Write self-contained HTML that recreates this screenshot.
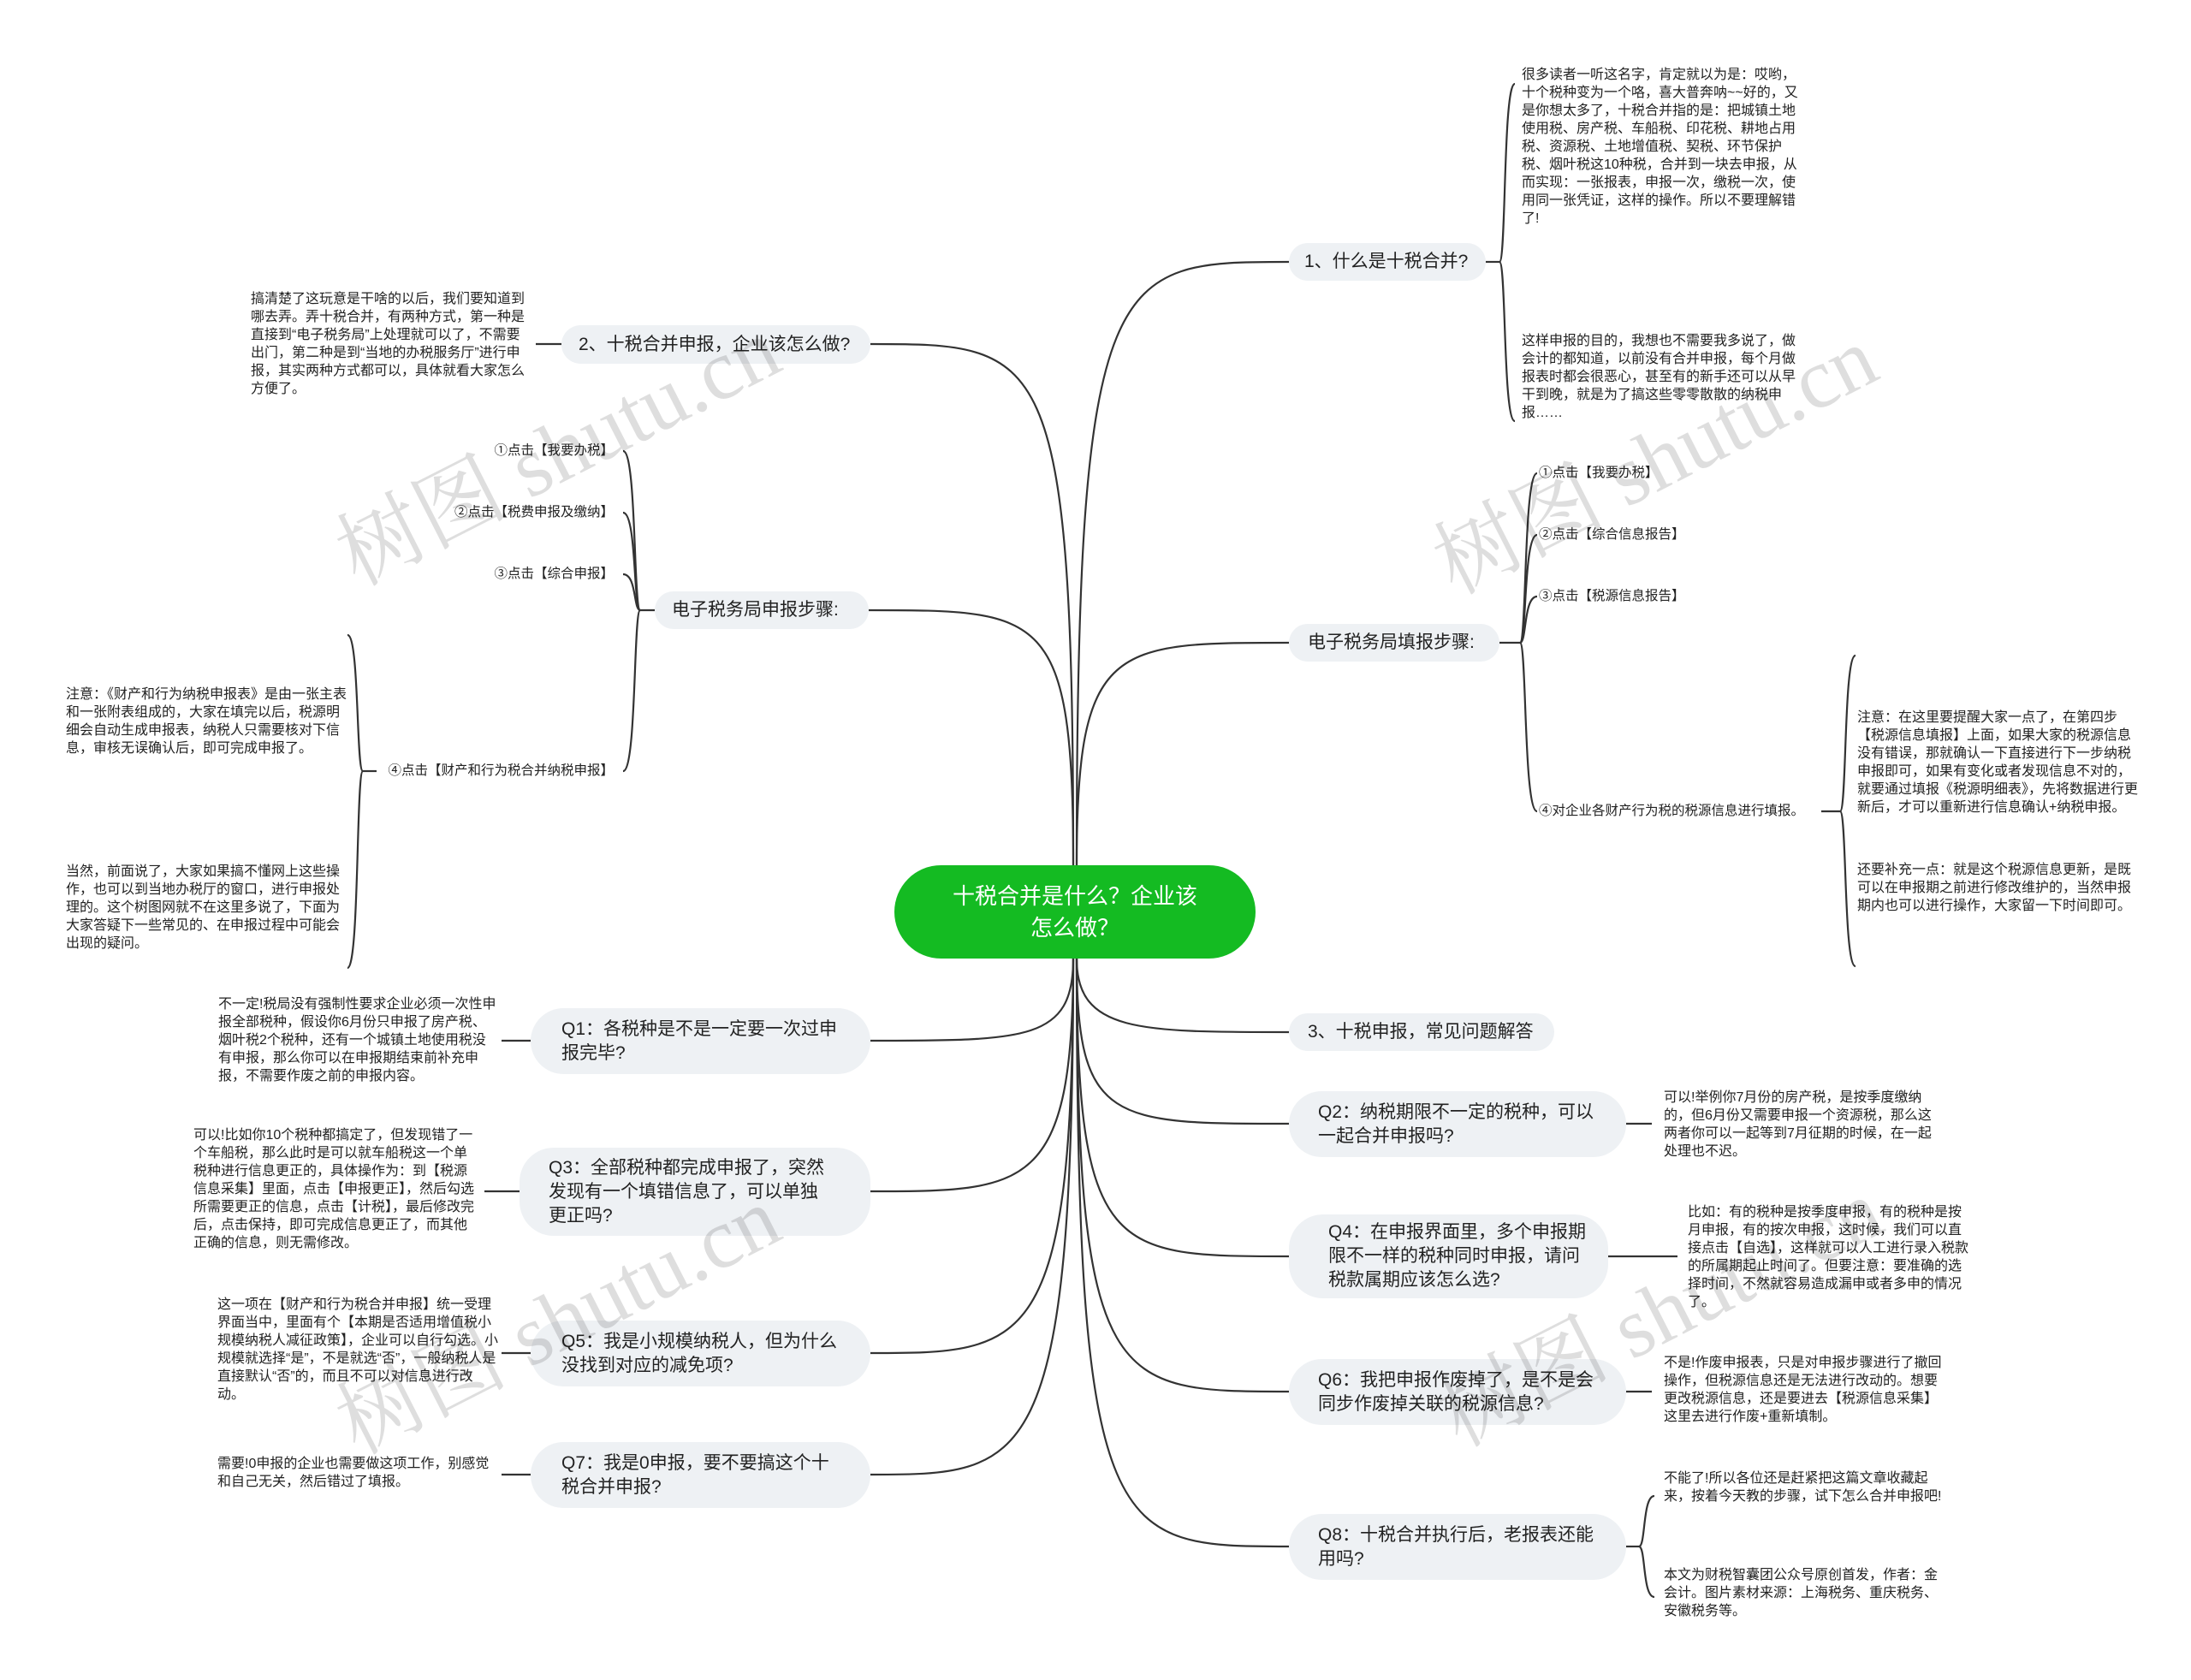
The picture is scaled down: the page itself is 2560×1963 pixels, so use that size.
<!DOCTYPE html>
<html><head><meta charset="utf-8">
<style>
html,body{margin:0;padding:0;}
body{width:2560px;height:1963px;position:relative;background:#fff;overflow:hidden;font-family:"Liberation Sans","Noto Sans CJK SC",sans-serif;color:#222;}
.p{position:absolute;background:#eef1f4;border-radius:40px;font-size:21px;line-height:28px;color:#222;display:flex;align-items:center;box-sizing:border-box;padding:0 34px;}
.n{white-space:nowrap;}
.t{position:absolute;font-size:16px;line-height:21px;color:#222;width:328px;}
.c{position:absolute;font-size:15.5px;line-height:21px;color:#222;white-space:nowrap;}
.wm{position:absolute;font-family:"Liberation Serif","Noto Serif CJK SC",serif;font-size:100px;color:rgba(0,0,0,0.13);transform:translate(-50%,-50%) rotate(-27deg);white-space:nowrap;}
</style></head><body>
<svg width="2560" height="1963" style="position:absolute;left:0;top:0" fill="none" stroke="#333" stroke-width="2.2">
<path d="M1258,1011 C1258,306 1300,306 1506,306"/>
<path d="M1258,1011 C1258,751 1300,751 1506,751"/>
<path d="M1258,1120 C1258,1206 1330,1206 1506,1206"/>
<path d="M1258,1120 C1258,1313 1300,1313 1506,1313"/>
<path d="M1258,1120 C1258,1468 1300,1468 1506,1468"/>
<path d="M1258,1120 C1258,1626 1300,1626 1506,1626"/>
<path d="M1258,1120 C1258,1807 1300,1807 1506,1807"/>
<path d="M1254,1011 C1254,402 1220,402 1017,402"/>
<path d="M1254,1011 C1254,713 1220,713 1015,713"/>
<path d="M1254,1120 C1254,1216 1200,1216 1017,1216"/>
<path d="M1254,1120 C1254,1392 1200,1392 1017,1392"/>
<path d="M1254,1120 C1254,1581 1200,1581 1017,1581"/>
<path d="M1254,1120 C1254,1723 1200,1723 1017,1723"/>
<path d="M1736,306 H1752"/>
<path d="M1752,306 C1760,306 1756,98 1770,98"/>
<path d="M1752,306 C1760,306 1756,492 1770,492"/>
<path d="M1752,751 H1776"/>
<path d="M1776,751 C1784,751 1780,553 1796,553"/>
<path d="M1776,751 C1784,751 1780,625 1796,625"/>
<path d="M1776,751 C1784,751 1780,697 1796,697"/>
<path d="M1776,751 C1784,751 1780,948 1796,948"/>
<path d="M2128,948 H2150"/>
<path d="M2150,948 C2158,948 2154,766 2168,766"/>
<path d="M2150,948 C2158,948 2154,1129 2168,1129"/>
<path d="M1900,1313 H1930"/>
<path d="M1879,1468 H1960"/>
<path d="M1900,1626 H1930"/>
<path d="M1900,1807 H1915"/>
<path d="M1915,1807 C1923,1807 1919,1748 1933,1748"/>
<path d="M1915,1807 C1923,1807 1919,1866 1933,1866"/>
<path d="M656,402 H626"/>
<path d="M765,713 H748"/>
<path d="M748,713 C740,713 744,527 728,527"/>
<path d="M748,713 C740,713 744,599 728,599"/>
<path d="M748,713 C740,713 744,671 728,671"/>
<path d="M748,713 C740,713 744,901 728,901"/>
<path d="M440,901 H424"/>
<path d="M424,901 C416,901 420,742 406,742"/>
<path d="M424,901 C416,901 420,1131 406,1131"/>
<path d="M620,1216 H586"/>
<path d="M607,1392 H566"/>
<path d="M620,1581 H586"/>
<path d="M620,1723 H586"/>
</svg>

<div style="position:absolute;left:1045px;top:1011px;width:422px;height:109px;border-radius:55px;background:#14bb22;color:#fff;font-size:26px;line-height:37px;display:flex;align-items:center;justify-content:center;text-align:center;padding:0 60px;box-sizing:border-box;">十税合并是什么？企业该怎么做？</div>

<div class="p n" style="left:1506px;top:284px;width:230px;height:44px;padding:0 18px;">1、什么是十税合并?</div>
<div class="p n" style="left:1506px;top:729px;width:246px;height:44px;padding:0 22px;">电子税务局填报步骤:</div>
<div class="p n" style="left:1506px;top:1184px;width:310px;height:44px;padding:0 22px;">3、十税申报，常见问题解答</div>
<div class="p" style="left:1506px;top:1275px;width:394px;height:77px;">Q2：纳税期限不一定的税种，可以一起合并申报吗?</div>
<div class="p" style="left:1506px;top:1419px;width:373px;height:98px;padding:0 16px 0 46px;">Q4：在申报界面里，多个申报期限不一样的税种同时申报，请问税款属期应该怎么选?</div>
<div class="p" style="left:1506px;top:1588px;width:394px;height:77px;">Q6：我把申报作废掉了，是不是会同步作废掉关联的税源信息?</div>
<div class="p" style="left:1506px;top:1769px;width:394px;height:77px;">Q8：十税合并执行后，老报表还能用吗?</div>

<div class="p n" style="left:656px;top:380px;width:361px;height:45px;padding:0 20px;">2、十税合并申报，企业该怎么做?</div>
<div class="p n" style="left:765px;top:691px;width:250px;height:44px;padding:0 20px;">电子税务局申报步骤:</div>
<div class="p" style="left:620px;top:1178px;width:397px;height:77px;padding:0 36px;">Q1：各税种是不是一定要一次过申报完毕?</div>
<div class="p" style="left:607px;top:1341px;width:410px;height:103px;padding:0 50px 0 34px;">Q3：全部税种都完成申报了，突然发现有一个填错信息了，可以单独更正吗?</div>
<div class="p" style="left:620px;top:1543px;width:397px;height:77px;padding:0 36px;">Q5：我是小规模纳税人，但为什么没找到对应的减免项?</div>
<div class="p" style="left:620px;top:1685px;width:397px;height:77px;padding:0 36px;">Q7：我是0申报，要不要搞这个十税合并申报?</div>

<div class="t" style="left:1778px;top:77px;">很多读者一听这名字，肯定就以为是：哎哟，十个税种变为一个咯，喜大普奔呐~~好的，又是你想太多了，十税合并指的是：把城镇土地使用税、房产税、车船税、印花税、耕地占用税、资源税、土地增值税、契税、环节保护税、烟叶税这10种税，合并到一块去申报，从而实现：一张报表，申报一次，缴税一次，使用同一张凭证，这样的操作。所以不要理解错了!</div>
<div class="t" style="left:1778px;top:388px;">这样申报的目的，我想也不需要我多说了，做会计的都知道，以前没有合并申报，每个月做报表时都会很恶心，甚至有的新手还可以从早干到晚，就是为了搞这些零零散散的纳税申报……</div>
<div class="c" style="left:1798px;top:542px;">①点击【我要办税】</div>
<div class="c" style="left:1798px;top:614px;">②点击【综合信息报告】</div>
<div class="c" style="left:1798px;top:686px;">③点击【税源信息报告】</div>
<div class="c" style="left:1798px;top:937px;">④对企业各财产行为税的税源信息进行填报。</div>
<div class="t" style="left:2170px;top:828px;">注意：在这里要提醒大家一点了，在第四步【税源信息填报】上面，如果大家的税源信息没有错误，那就确认一下直接进行下一步纳税申报即可，如果有变化或者发现信息不对的，就要通过填报《税源明细表》，先将数据进行更新后，才可以重新进行信息确认+纳税申报。</div>
<div class="t" style="left:2170px;top:1006px;">还要补充一点：就是这个税源信息更新，是既可以在申报期之前进行修改维护的，当然申报期内也可以进行操作，大家留一下时间即可。</div>
<div class="t" style="left:1944px;top:1272px;">可以!举例你7月份的房产税，是按季度缴纳的，但6月份又需要申报一个资源税，那么这两者你可以一起等到7月征期的时候，在一起处理也不迟。</div>
<div class="t" style="left:1972px;top:1406px;">比如：有的税种是按季度申报，有的税种是按月申报，有的按次申报，这时候，我们可以直接点击【自选】，这样就可以人工进行录入税款的所属期起止时间了。但要注意：要准确的选择时间，不然就容易造成漏申或者多申的情况了。</div>
<div class="t" style="left:1944px;top:1582px;">不是!作废申报表，只是对申报步骤进行了撤回操作，但税源信息还是无法进行改动的。想要更改税源信息，还是要进去【税源信息采集】这里去进行作废+重新填制。</div>
<div class="t" style="left:1944px;top:1717px;">不能了!所以各位还是赶紧把这篇文章收藏起来，按着今天教的步骤，试下怎么合并申报吧!</div>
<div class="t" style="left:1944px;top:1830px;">本文为财税智囊团公众号原创首发，作者：金会计。图片素材来源：上海税务、重庆税务、安徽税务等。</div>

<div class="t" style="left:293px;top:339px;">搞清楚了这玩意是干啥的以后，我们要知道到哪去弄。弄十税合并，有两种方式，第一种是直接到“电子税务局”上处理就可以了，不需要出门，第二种是到“当地的办税服务厅”进行申报，其实两种方式都可以，具体就看大家怎么方便了。</div>
<div class="c" style="right:1843px;top:516px;">①点击【我要办税】</div>
<div class="c" style="right:1843px;top:588px;">②点击【税费申报及缴纳】</div>
<div class="c" style="right:1843px;top:660px;">③点击【综合申报】</div>
<div class="c" style="right:1843px;top:890px;">④点击【财产和行为税合并纳税申报】</div>
<div class="t" style="left:77px;top:801px;">注意：《财产和行为纳税申报表》是由一张主表和一张附表组成的，大家在填完以后，税源明细会自动生成申报表，纳税人只需要核对下信息，审核无误确认后，即可完成申报了。</div>
<div class="t" style="left:77px;top:1008px;">当然，前面说了，大家如果搞不懂网上这些操作，也可以到当地办税厅的窗口，进行申报处理的。这个树图网就不在这里多说了，下面为大家答疑下一些常见的、在申报过程中可能会出现的疑问。</div>
<div class="t" style="left:255px;top:1163px;">不一定!税局没有强制性要求企业必须一次性申报全部税种，假设你6月份只申报了房产税、烟叶税2个税种，还有一个城镇土地使用税没有申报，那么你可以在申报期结束前补充申报，不需要作废之前的申报内容。</div>
<div class="t" style="left:226px;top:1316px;">可以!比如你10个税种都搞定了，但发现错了一个车船税，那么此时是可以就车船税这一个单税种进行信息更正的，具体操作为：到【税源信息采集】里面，点击【申报更正】，然后勾选所需要更正的信息，点击【计税】，最后修改完后，点击保持，即可完成信息更正了，而其他正确的信息，则无需修改。</div>
<div class="t" style="left:254px;top:1514px;">这一项在【财产和行为税合并申报】统一受理界面当中，里面有个【本期是否适用增值税小规模纳税人减征政策】，企业可以自行勾选。小规模就选择“是”，不是就选“否”，一般纳税人是直接默认“否”的，而且不可以对信息进行改动。</div>
<div class="t" style="left:254px;top:1700px;">需要!0申报的企业也需要做这项工作，别感觉和自己无关，然后错过了填报。</div>

<div class="wm" style="left:648px;top:520px;">树图 shutu.cn</div>
<div class="wm" style="left:1930px;top:530px;">树图 shutu.cn</div>
<div class="wm" style="left:648px;top:1535px;">树图 shutu.cn</div>
<div class="wm" style="left:1936px;top:1526px;">树图 shutu.cn</div>
</body></html>
